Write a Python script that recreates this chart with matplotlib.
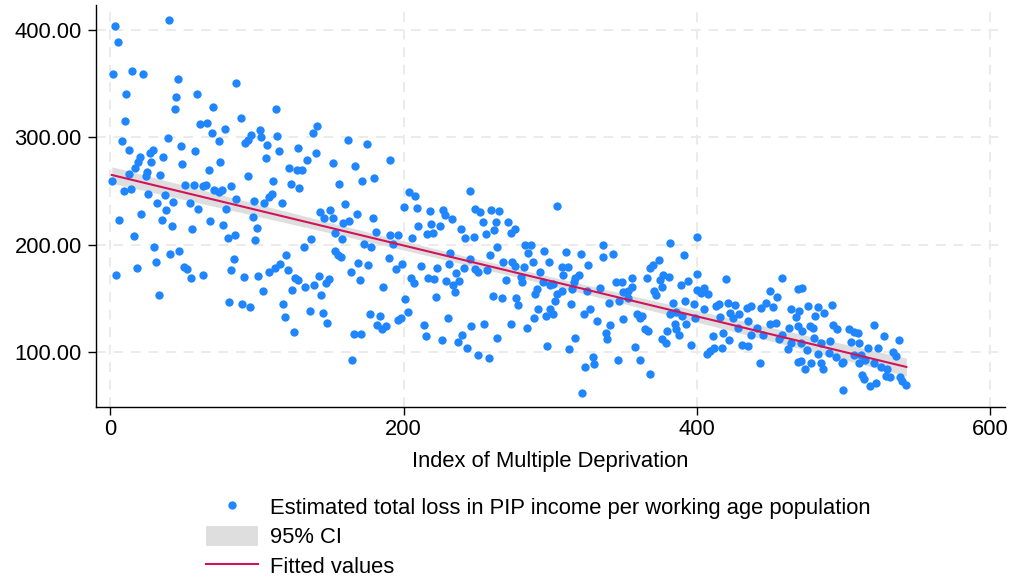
import numpy as np
import matplotlib
matplotlib.use("Agg")
import matplotlib.pyplot as plt
from matplotlib.lines import Line2D
from matplotlib.patches import Patch
from matplotlib.ticker import FormatStrFormatter

plt.rcParams['font.family'] = ['Liberation Sans', 'DejaVu Sans']

# IMD rank (x) and estimated PIP loss per working-age person (y)
imd_rank = [
    40, 3, 5, 2, 15, 22, 46, 11, 45, 59, 44, 10, 61, 8, 39, 13, 48, 58, 29, 27,
    20, 36, 19, 28, 49, 17, 25, 34, 1, 24, 13, 9, 14, 26, 51, 57, 37, 32, 43, 54,
    60, 38, 6, 21, 35, 42, 56, 16, 30, 41, 47, 31, 4, 18, 50, 52, 55, 33, 63,
    86, 70, 113, 89, 66, 78, 69, 74, 102, 96, 94, 92, 103, 114, 107, 115, 128, 106, 75, 67,
    122, 127, 94, 111, 123, 129, 63, 65, 71, 76, 74, 82, 86, 110, 108, 98, 105, 117, 68, 79,
    97, 77, 100, 80, 85, 99, 84, 82, 91, 101, 120, 116, 112, 108, 121, 126, 128, 124, 104, 81,
    90, 95, 118, 119, 125,
    141, 138, 162, 175, 140, 134, 131, 152, 191, 167, 180, 172, 156, 160, 143, 150, 146, 152, 168, 179,
    163, 159, 153, 158, 181, 137, 132, 173, 178, 191, 196, 193, 153, 157, 155, 190, 169, 176, 164, 170,
    195, 186, 142, 149, 147, 133, 139, 144, 136, 145, 148, 177, 184, 182, 185, 188, 196, 166, 171, 165,
    245, 204, 208, 200, 209, 218, 227, 228, 233, 249, 252, 254, 260, 265, 263, 262, 210, 219, 220, 225,
    216, 239, 242, 248, 256, 206, 264, 259, 232, 231, 245, 251, 249, 257, 241, 236, 238, 234, 235, 229,
    223, 212, 217, 221, 205, 207, 199, 201, 203, 198, 222, 261, 230, 214, 215, 226, 240, 246, 237, 243,
    255, 251, 258, 264,
    305, 271, 276, 273, 283, 287, 285, 296, 311, 321, 268, 274, 276, 288, 299, 282, 326, 308, 312, 293,
    309, 280, 281, 270, 295, 300, 302, 317, 320, 316, 315, 325, 308, 305, 291, 290, 267, 277, 278, 303,
    314, 292, 289, 297, 300, 302, 323, 327, 332, 273, 284, 298, 313, 317, 329, 324, 330, 322,
    382, 400, 336, 336, 343, 391, 374, 370, 368, 356, 366, 377, 381, 400, 345, 349, 375, 376, 389, 394,
    356, 353, 400, 334, 371, 372, 350, 353, 347, 340, 384, 392, 398, 382, 386, 390, 359, 363, 361, 399,
    350, 341, 385, 386, 388, 393, 365, 367, 380, 338, 339, 376, 379, 396, 358, 346, 361, 368,
    420, 458, 405, 408, 403, 450, 455, 469, 413, 415, 421, 426, 434, 437, 444, 447, 452, 464, 468, 405,
    423, 429, 425, 416, 435, 428, 454, 450, 441, 445, 463, 469, 411, 418, 437, 456, 458, 422, 431, 435,
    407, 409, 412, 417, 462, 464, 443, 469,
    472, 476, 483, 492, 487, 481, 470, 472, 477, 479, 493, 496, 504, 507, 510, 521, 528, 538, 491, 485,
    505, 511, 517, 524, 534, 536, 475, 480, 471, 483, 490, 495, 499, 500, 507, 512, 515, 511, 521, 526,
    530, 529, 532, 539, 540, 543, 471, 474, 478, 485, 486, 513, 514, 518, 522, 500,
]
pip_loss = [
    409, 404, 389, 359, 362, 359, 354, 340, 338, 340, 326, 315, 312, 297, 299, 288, 292, 287, 288, 285,
    282, 282, 277, 277, 275, 271, 268, 265, 259, 264, 266, 250, 252, 247, 256, 256, 246, 239, 240, 239,
    233, 232, 223, 229, 223, 217, 215, 208, 198, 191, 194, 184, 172, 178, 179, 177, 169, 153, 172,
    351, 328, 326, 318, 313, 308, 304, 297, 307, 302, 298, 295, 300, 301, 293, 287, 290, 281, 277, 270,
    271, 270, 264, 259, 257, 253, 255, 256, 251, 251, 249, 255, 243, 247, 244, 241, 239, 239, 222, 233,
    226, 218, 216, 206, 209, 204, 187, 176, 170, 171, 190, 182, 178, 175, 176, 169, 167, 158, 157, 147,
    145, 142, 145, 133, 119,
    311, 304, 298, 294, 285, 279, 270, 276, 279, 273, 262, 259, 257, 238, 230, 232, 225, 225, 229, 225,
    222, 220, 211, 205, 212, 205, 198, 201, 198, 209, 209, 201, 194, 189, 190, 188, 183, 181, 175, 167,
    177, 161, 171, 168, 164, 161, 162, 153, 138, 136, 127, 135, 134, 125, 121, 124, 130, 117, 117, 93,
    250, 249, 245, 235, 234, 231, 232, 228, 224, 233, 230, 221, 232, 231, 221, 214, 217, 219, 211, 217,
    210, 215, 206, 207, 210, 206, 198, 190, 192, 182, 187, 175, 177, 176, 178, 174, 166, 162, 156, 166,
    178, 180, 169, 168, 169, 164, 182, 149, 137, 132, 151, 152, 132, 125, 115, 111, 116, 124, 109, 104,
    126, 97, 94, 113,
    236, 221, 215, 211, 200, 200, 192, 194, 193, 191, 184, 184, 180, 184, 184, 179, 181, 179, 179, 175,
    172, 170, 165, 167, 165, 162, 163, 169, 172, 165, 159, 157, 157, 154, 159, 154, 150, 150, 144, 148,
    145, 140, 132, 134, 140, 135, 135, 140, 129, 126, 122, 106, 103, 113, 95, 86, 89, 62,
    202, 207, 200, 189, 191, 190, 186, 181, 178, 169, 169, 172, 170, 173, 165, 165, 167, 161, 162, 166,
    161, 157, 158, 160, 157, 153, 156, 150, 148, 146, 146, 148, 145, 135, 137, 134, 135, 134, 132, 132,
    131, 125, 126, 121, 116, 126, 121, 120, 120, 118, 112, 112, 108, 107, 105, 93, 93, 80,
    168, 169, 160, 154, 155, 157, 151, 159, 143, 145, 146, 144, 141, 143, 141, 146, 142, 140, 133, 140,
    136, 135, 132, 133, 129, 122, 127, 126, 122, 116, 122, 124, 115, 118, 116, 112, 116, 111, 107, 106,
    98, 101, 104, 104, 103, 108, 90, 91,
    160, 143, 142, 144, 136, 134, 138, 120, 124, 122, 125, 121, 121, 119, 118, 125, 115, 111, 110, 108,
    109, 108, 104, 104, 100, 96, 102, 113, 108, 98, 99, 95, 90, 91, 97, 97, 93, 90, 90, 86,
    84, 78, 77, 77, 73, 69, 92, 84, 90, 90, 84, 79, 75, 68, 71, 65,
]

x_ticks = [0, 200, 400, 600]
y_ticks = [100, 200, 300, 400]

x = np.array(imd_rank, dtype=float)
y = np.array(pip_loss, dtype=float)

# linear fit with 95% CI of the mean prediction (like lfitci)
b1, b0 = np.polyfit(x, y, 1)
n = len(x)
resid = y - (b0 + b1 * x)
s = np.sqrt(np.sum(resid ** 2) / (n - 2))
xs = np.linspace(x.min(), x.max(), 200)
fit = b0 + b1 * xs
se = s * np.sqrt(1.0 / n + (xs - x.mean()) ** 2 / np.sum((x - x.mean()) ** 2))
lo = fit - 1.96 * se
hi = fit + 1.96 * se

blue = '#1f86ff'
red = '#d1145a'
grey = '#dedede'
fs = 15.8

fig = plt.figure(figsize=(10.26, 5.81), dpi=100)
ax = fig.add_axes([96 / 1026, 1 - 407 / 581, (1005 - 96) / 1026, (407 - 5) / 581])

ax.fill_between(xs, lo, hi, color=grey, linewidth=0, zorder=2)
ax.scatter(x, y, s=36, color=blue, linewidths=0, zorder=3)
ax.plot(xs, fit, color=red, linewidth=1.5, zorder=4)

ax.set_xlim(-9.8, 610.3)
ax.set_ylim(48.8, 423.3)
ax.set_xticks(x_ticks)
ax.set_yticks(y_ticks)
ax.yaxis.set_major_formatter(FormatStrFormatter('%.2f'))
ax.tick_params(direction='out', length=5.8, width=1, labelsize=fs)
ax.tick_params(axis='x', pad=3)
ax.tick_params(axis='y', pad=4.5)
ax.grid(True, color='#ebebeb', linestyle=(0, (5, 4)), linewidth=1.4, zorder=0)
ax.set_axisbelow(True)
for side in ['top', 'right']:
    ax.spines[side].set_visible(False)
for side in ['left', 'bottom']:
    ax.spines[side].set_linewidth(1.0)

ax.set_xlabel('Index of Multiple Deprivation', fontsize=fs, labelpad=8)

handles = [
    Line2D([], [], linestyle='none', marker='o', markersize=6, color=blue, markeredgewidth=0),
    Patch(facecolor=grey, edgecolor='none'),
    Line2D([], [], color=red, linewidth=1.5),
]
labels = ['Estimated total loss in PIP income per working age population', '95% CI', 'Fitted values']
fig.legend(handles, labels, loc='upper left', bbox_to_anchor=(206 / 1026, 1 - 496 / 581),
           frameon=False, fontsize=fs, handlelength=2.35, handleheight=1.03,
           handletextpad=0.58, labelspacing=0.32, borderpad=0, borderaxespad=0)

fig.savefig('out.png', dpi=100)
